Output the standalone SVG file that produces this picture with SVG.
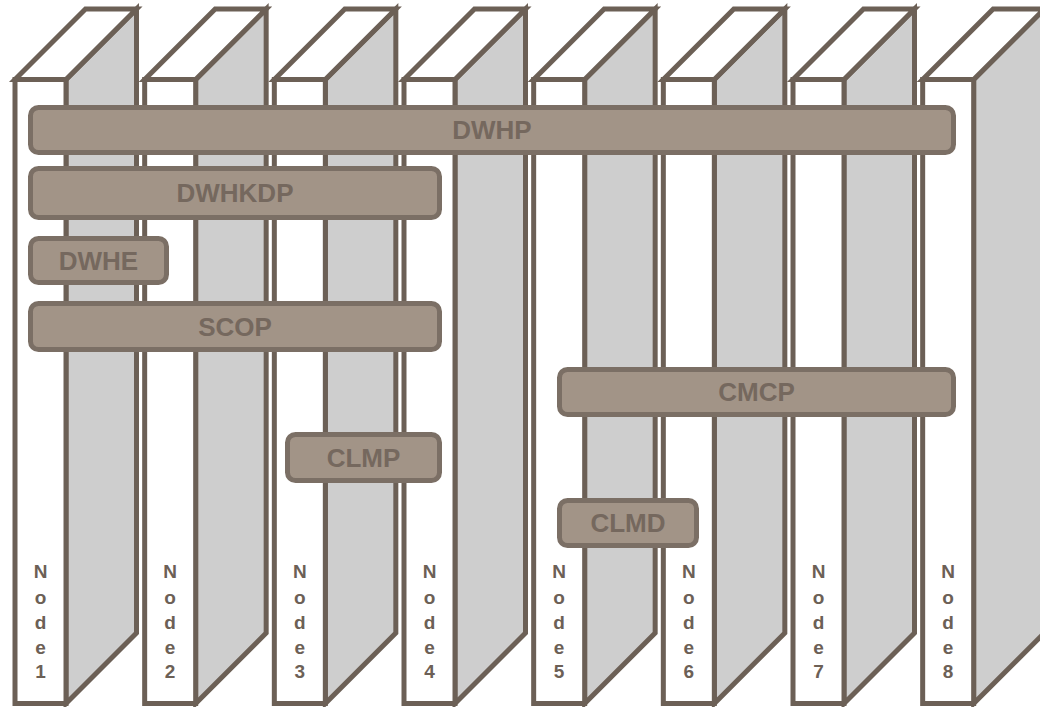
<svg xmlns="http://www.w3.org/2000/svg" xmlns:xlink="http://www.w3.org/1999/xlink" width="1040" height="707" viewBox="0 0 1040 707">
<style>
.face{stroke:#6c6056;stroke-width:5;stroke-linejoin:miter}
.front{fill:#ffffff}
.top{fill:#ffffff}
.side{fill:#cecece}
.bar{fill:#a29487;stroke:#7b6f65;stroke-width:5}
.bl{font-family:"Liberation Sans",Arial,sans-serif;font-weight:bold;font-size:26px;fill:#75685e;text-anchor:middle}
.nl{font-family:"Liberation Sans",Arial,sans-serif;font-weight:bold;font-size:19px;fill:#6c6056;text-anchor:middle}
</style>
<defs>
<g id="col">
<polygon class="face side" points="66,79.5 136.5,9 136.5,633 66,703.5"/>
<polygon class="face top" points="15,79.5 85.5,9 136.5,9 66,79.5"/>
<rect class="face front" x="15" y="79.5" width="51" height="624"/>
</g>
</defs>
<g id="columns">
<g id="node1"><use xlink:href="#col"/><text class="nl"><tspan x="40.5" y="578">N</tspan><tspan x="40.5" y="604">o</tspan><tspan x="40.5" y="629">d</tspan><tspan x="40.5" y="654">e</tspan><tspan x="40.5" y="678">1</tspan></text></g>
<g id="node2" transform="translate(129.67,0)"><use xlink:href="#col"/><text class="nl"><tspan x="40.5" y="578">N</tspan><tspan x="40.5" y="604">o</tspan><tspan x="40.5" y="629">d</tspan><tspan x="40.5" y="654">e</tspan><tspan x="40.5" y="678">2</tspan></text></g>
<g id="node3" transform="translate(259.33,0)"><use xlink:href="#col"/><text class="nl"><tspan x="40.5" y="578">N</tspan><tspan x="40.5" y="604">o</tspan><tspan x="40.5" y="629">d</tspan><tspan x="40.5" y="654">e</tspan><tspan x="40.5" y="678">3</tspan></text></g>
<g id="node4" transform="translate(389,0)"><use xlink:href="#col"/><text class="nl"><tspan x="40.5" y="578">N</tspan><tspan x="40.5" y="604">o</tspan><tspan x="40.5" y="629">d</tspan><tspan x="40.5" y="654">e</tspan><tspan x="40.5" y="678">4</tspan></text></g>
<g id="node5" transform="translate(518.67,0)"><use xlink:href="#col"/><text class="nl"><tspan x="40.5" y="578">N</tspan><tspan x="40.5" y="604">o</tspan><tspan x="40.5" y="629">d</tspan><tspan x="40.5" y="654">e</tspan><tspan x="40.5" y="678">5</tspan></text></g>
<g id="node6" transform="translate(648.33,0)"><use xlink:href="#col"/><text class="nl"><tspan x="40.5" y="578">N</tspan><tspan x="40.5" y="604">o</tspan><tspan x="40.5" y="629">d</tspan><tspan x="40.5" y="654">e</tspan><tspan x="40.5" y="678">6</tspan></text></g>
<g id="node7" transform="translate(778,0)"><use xlink:href="#col"/><text class="nl"><tspan x="40.5" y="578">N</tspan><tspan x="40.5" y="604">o</tspan><tspan x="40.5" y="629">d</tspan><tspan x="40.5" y="654">e</tspan><tspan x="40.5" y="678">7</tspan></text></g>
<g id="node8" transform="translate(907.67,0)"><use xlink:href="#col"/><text class="nl"><tspan x="40.5" y="578">N</tspan><tspan x="40.5" y="604">o</tspan><tspan x="40.5" y="629">d</tspan><tspan x="40.5" y="654">e</tspan><tspan x="40.5" y="678">8</tspan></text></g>
</g>
<g id="bars">
<g id="DWHP"><rect class="bar" x="30.5" y="107.5" width="923" height="45" rx="8"/><text class="bl" x="492" y="139">DWHP</text></g>
<g id="DWHKDP"><rect class="bar" x="30.5" y="168.5" width="409" height="49" rx="8"/><text class="bl" x="235" y="202">DWHKDP</text></g>
<g id="DWHE"><rect class="bar" x="30.5" y="238.5" width="136" height="44" rx="8"/><text class="bl" x="98.5" y="269.5">DWHE</text></g>
<g id="SCOP"><rect class="bar" x="30.5" y="303.5" width="409" height="46" rx="8"/><text class="bl" x="235" y="335.5">SCOP</text></g>
<g id="CMCP"><rect class="bar" x="559.5" y="369.5" width="394" height="45" rx="8"/><text class="bl" x="756.5" y="401">CMCP</text></g>
<g id="CLMP"><rect class="bar" x="287.5" y="434.5" width="152" height="46" rx="8"/><text class="bl" x="363.5" y="466.5">CLMP</text></g>
<g id="CLMD"><rect class="bar" x="559.5" y="500.5" width="137" height="45" rx="8"/><text class="bl" x="628" y="532">CLMD</text></g>
</g>
</svg>
